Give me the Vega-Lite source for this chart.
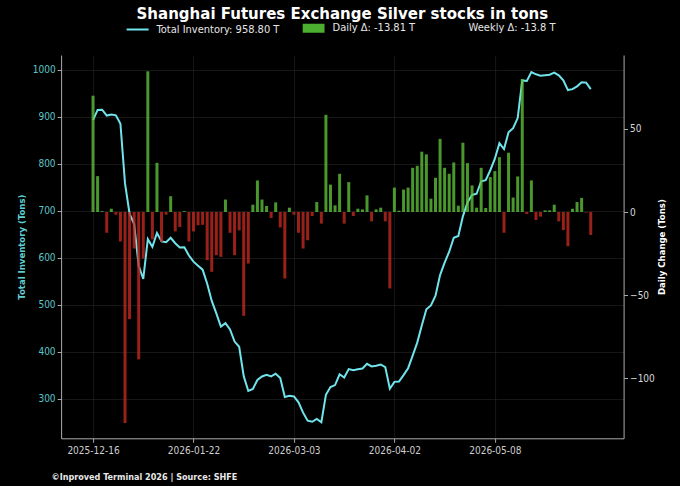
{
  "$schema": "https://vega.github.io/schema/vega-lite/v6.json",
  "width": 562.5,
  "height": 383.3,
  "autosize": {"type": "none"},
  "padding": {"left": 61.1, "top": 55, "right": 56.4, "bottom": 47.7},
  "background": "#000000",
  "title": {
    "text": "Shanghai Futures Exchange Silver stocks in tons",
    "frame": "group",
    "anchor": "middle",
    "offset": -5.5,
    "color": "#ffffff",
    "fontSize": 15,
    "fontWeight": "bold"
  },
  "data": {
    "values": [
      {"i": 0, "inv": 893.0, "chg": 70},
      {"i": 1, "inv": 914.6, "chg": 21.6},
      {"i": 2, "inv": 915.1, "chg": 0.5},
      {"i": 3, "inv": 902.6, "chg": -12.5},
      {"i": 4, "inv": 904.6, "chg": 2},
      {"i": 5, "inv": 903.0, "chg": -1.6},
      {"i": 6, "inv": 885.3, "chg": -17.7},
      {"i": 7, "inv": 758.3, "chg": -127},
      {"i": 8, "inv": 693.8, "chg": -64.5},
      {"i": 9, "inv": 671.8, "chg": -22},
      {"i": 10, "inv": 583.1, "chg": -88.7},
      {"i": 11, "inv": 555.1, "chg": -28},
      {"i": 12, "inv": 639.8, "chg": 84.7},
      {"i": 13, "inv": 623.3, "chg": -16.5},
      {"i": 14, "inv": 652.9, "chg": 29.6},
      {"i": 15, "inv": 634.9, "chg": -18},
      {"i": 16, "inv": 633.3, "chg": -1.6},
      {"i": 17, "inv": 642.8, "chg": 9.5},
      {"i": 18, "inv": 631.1, "chg": -11.7},
      {"i": 19, "inv": 622.1, "chg": -9},
      {"i": 20, "inv": 622.6, "chg": 0.5},
      {"i": 21, "inv": 604.9, "chg": -17.7},
      {"i": 22, "inv": 592.0, "chg": -11.7},
      {"i": 23, "inv": 583.5, "chg": -8},
      {"i": 24, "inv": 575.0, "chg": -7.7},
      {"i": 25, "inv": 545.0, "chg": -29},
      {"i": 26, "inv": 508.5, "chg": -36},
      {"i": 27, "inv": 482.0, "chg": -26},
      {"i": 28, "inv": 454.0, "chg": -27},
      {"i": 29, "inv": 461.0, "chg": 7.5},
      {"i": 30, "inv": 448.0, "chg": -12.5},
      {"i": 31, "inv": 422.0, "chg": -26},
      {"i": 32, "inv": 411.0, "chg": -11},
      {"i": 33, "inv": 348.5, "chg": -62.5},
      {"i": 34, "inv": 317.0, "chg": -31},
      {"i": 35, "inv": 321.4, "chg": 4.4},
      {"i": 36, "inv": 340.4, "chg": 19},
      {"i": 37, "inv": 347.9, "chg": 7.5},
      {"i": 38, "inv": 351.5, "chg": 3.6},
      {"i": 39, "inv": 347.9, "chg": -3.6},
      {"i": 40, "inv": 353.7, "chg": 5.8},
      {"i": 41, "inv": 344.4, "chg": -9.3},
      {"i": 42, "inv": 304.4, "chg": -40},
      {"i": 43, "inv": 307.0, "chg": 2.6},
      {"i": 44, "inv": 305.4, "chg": -1.6},
      {"i": 45, "inv": 292.9, "chg": -12.5},
      {"i": 46, "inv": 270.9, "chg": -22},
      {"i": 47, "inv": 253.9, "chg": -17},
      {"i": 48, "inv": 251.5, "chg": -2.4},
      {"i": 49, "inv": 257.5, "chg": 6},
      {"i": 50, "inv": 250.5, "chg": -7},
      {"i": 51, "inv": 309.0, "chg": 58.5},
      {"i": 52, "inv": 325.5, "chg": 16.5},
      {"i": 53, "inv": 329.5, "chg": 4},
      {"i": 54, "inv": 352.5, "chg": 23},
      {"i": 55, "inv": 345.5, "chg": -7},
      {"i": 56, "inv": 363.5, "chg": 18},
      {"i": 57, "inv": 361.1, "chg": -2.4},
      {"i": 58, "inv": 363.1, "chg": 2},
      {"i": 59, "inv": 364.7, "chg": 1.6},
      {"i": 60, "inv": 374.7, "chg": 10},
      {"i": 61, "inv": 369.1, "chg": -5.6},
      {"i": 62, "inv": 370.7, "chg": 1.6},
      {"i": 63, "inv": 373.3, "chg": 2.6},
      {"i": 64, "inv": 367.7, "chg": -5.6},
      {"i": 65, "inv": 321.7, "chg": -46},
      {"i": 66, "inv": 336.4, "chg": 14.7},
      {"i": 67, "inv": 337.2, "chg": 0.8},
      {"i": 68, "inv": 350.7, "chg": 13.5},
      {"i": 69, "inv": 365.4, "chg": 14.7},
      {"i": 70, "inv": 392.0, "chg": 26.6},
      {"i": 71, "inv": 419.8, "chg": 27.8},
      {"i": 72, "inv": 456.1, "chg": 36.3},
      {"i": 73, "inv": 490.8, "chg": 34.7},
      {"i": 74, "inv": 498.8, "chg": 8},
      {"i": 75, "inv": 519.4, "chg": 20.6},
      {"i": 76, "inv": 563.4, "chg": 44},
      {"i": 77, "inv": 590.0, "chg": 26.6},
      {"i": 78, "inv": 613.0, "chg": 23},
      {"i": 79, "inv": 642.8, "chg": 29.8},
      {"i": 80, "inv": 646.6, "chg": 3.8},
      {"i": 81, "inv": 688.3, "chg": 41.7},
      {"i": 82, "inv": 717.7, "chg": 29.4},
      {"i": 83, "inv": 733.7, "chg": 16},
      {"i": 84, "inv": 736.3, "chg": 2.6},
      {"i": 85, "inv": 762.9, "chg": 26.6},
      {"i": 86, "inv": 765.3, "chg": 2.4},
      {"i": 87, "inv": 786.3, "chg": 21},
      {"i": 88, "inv": 810.9, "chg": 24.6},
      {"i": 89, "inv": 843.9, "chg": 33},
      {"i": 90, "inv": 831.4, "chg": -12.5},
      {"i": 91, "inv": 867.1, "chg": 35.7},
      {"i": 92, "inv": 875.8, "chg": 8.7},
      {"i": 93, "inv": 897.2, "chg": 21.4},
      {"i": 94, "inv": 977.2, "chg": 80},
      {"i": 95, "inv": 976.0, "chg": -1.2},
      {"i": 96, "inv": 995.0, "chg": 19},
      {"i": 97, "inv": 990.2, "chg": -4.8},
      {"i": 98, "inv": 987.4, "chg": -2.8},
      {"i": 99, "inv": 988.4, "chg": 1},
      {"i": 100, "inv": 989.4, "chg": 1},
      {"i": 101, "inv": 993.8, "chg": 4.4},
      {"i": 102, "inv": 988.2, "chg": -5.6},
      {"i": 103, "inv": 977.3, "chg": -10.9},
      {"i": 104, "inv": 956.7, "chg": -20.6},
      {"i": 105, "inv": 958.7, "chg": 2},
      {"i": 106, "inv": 964.7, "chg": 6},
      {"i": 107, "inv": 973.2, "chg": 8.5},
      {"i": 108, "inv": 972.6, "chg": -0.4},
      {"i": 109, "inv": 958.8, "chg": -13.81}
    ]
  },
  "encoding": {
    "x": {
      "field": "i",
      "type": "quantitative",
      "scale": {"domain": [-5.9, 115.1], "nice": false, "zero": false},
      "axis": {
        "values": [0, 22, 44, 66, 88],
        "labelExpr": "['2025-12-16', '2026-01-22', '2026-03-03', '2026-04-02', '2026-05-08'][datum.value / 22]",
        "grid": true,
        "title": "©Inproved Terminal 2026 | Source: SHFE",
        "titleX": -10,
        "titleY": 38.4,
        "titleAlign": "left",
        "titleAnchor": "start",
        "titleBaseline": "middle",
        "titleFontSize": 9,
        "titleFontWeight": "bold",
        "titleColor": "#e8e8e8",
        "labelPadding": 3
      }
    }
  },
  "layer": [
    {
      "mark": {"type": "line", "strokeWidth": 2},
      "encoding": {
        "y": {
          "field": "inv",
          "type": "quantitative",
          "scale": {"domain": [216.4, 1031.3], "nice": false, "zero": false},
          "axis": {
            "orient": "left",
            "values": [300, 400, 500, 600, 700, 800, 900, 1000],
            "format": "d",
            "grid": true,
            "labelColor": "#5fc4c8",
            "title": "Total Inventory (Tons)",
            "titleColor": "#5fcfd3",
            "titleFontSize": 9.5,
            "titleFontWeight": "bold",
            "titleX": -39.4,
            "titleY": 191.6,
            "titleBaseline": "middle"
          }
        },
        "color": {
          "datum": "Total Inventory: 958.80 T",
          "type": "nominal",
          "scale": {
            "domain": ["Total Inventory: 958.80 T", "Daily Δ: -13.81 T", "Weekly Δ: -13.8 T"],
            "range": ["#70e4ec", "#4caf2f", "#000000"]
          },
          "legend": {
            "orient": "none",
            "legendX": 64.5,
            "legendY": -39,
            "direction": "horizontal",
            "columns": 3,
            "title": null,
            "labelColor": "#e6e6e6",
            "labelFontSize": 11,
            "labelOffset": 7,
            "columnPadding": 20,
            "symbolSize": 484,
            "encode": {
              "symbols": {
                "update": {
                  "shape": {"signal": "datum.value === 'Total Inventory: 958.80 T' ? 'stroke' : 'M-0.9,-0.32H0.9V0.32H-0.9Z'"},
                  "fill": {"signal": "datum.value === 'Daily Δ: -13.81 T' ? '#4caf2f' : 'transparent'"},
                  "stroke": {"signal": "datum.value === 'Total Inventory: 958.80 T' ? '#70e4ec' : 'transparent'"},
                  "strokeWidth": {"value": 2},
                  "opacity": {"value": 1}
                }
              }
            }
          }
        }
      }
    },
    {
      "mark": {"type": "bar", "width": 3, "opacity": 0.78},
      "encoding": {
        "y": {
          "field": "chg",
          "type": "quantitative",
          "scale": {"domain": [-136.2, 94.5], "nice": false, "zero": false},
          "axis": {
            "orient": "right",
            "values": [-100, -50, 0, 50],
            "format": "d",
            "grid": false,
            "labelColor": "#d8d8d8",
            "title": "Daily Change (Tons)",
            "titleColor": "#ffffff",
            "titleFontSize": 9.5,
            "titleFontWeight": "bold",
            "titleAngle": 270,
            "titleX": 38.1,
            "titleY": 191.6,
            "titleBaseline": "middle"
          }
        },
        "y2": {"datum": 0},
        "color": {
          "condition": {"test": "datum.chg >= 0", "value": "#5fc23a"},
          "value": "#c42a20"
        }
      }
    }
  ],
  "resolve": {"scale": {"y": "independent"}},
  "config": {
    "font": "DejaVu Sans Condensed",
    "view": {"stroke": null},
    "axis": {
      "domainColor": "#aaaaaa",
      "tickColor": "#aaaaaa",
      "tickSize": 4,
      "labelColor": "#cfcfcf",
      "labelFontSize": 10,
      "gridColor": "#262626",
      "gridWidth": 0.6
    },
    "legend": {"labelFont": "DejaVu Sans Condensed"},
    "title": {"font": "DejaVu Sans"}
  }
}
